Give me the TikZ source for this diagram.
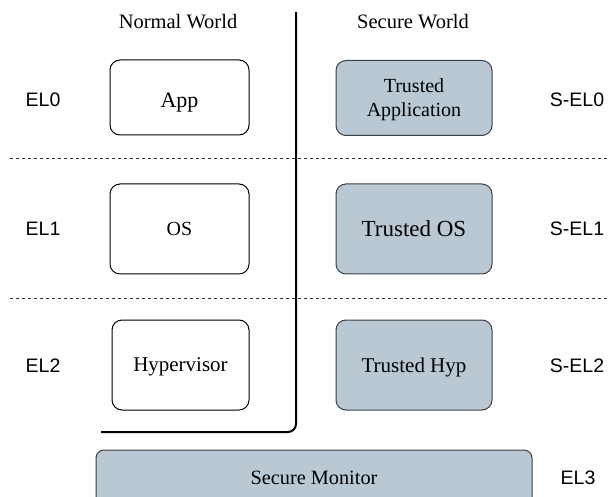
\documentclass[tikz,border=0pt]{standalone}
\usepackage{fontspec}
\setmainfont{Liberation Serif}
\newfontfamily\labelfont{Liberation Sans}
\definecolor{secfill}{HTML}{BAC8D3}
\definecolor{secline}{HTML}{3A3F44}
\begin{document}
\begin{tikzpicture}[x=1pt,y=-1pt,
  world/.style={draw=black,line width=1pt,rounded corners=10pt,fill=white,
    font=\fontsize{20}{24}\selectfont,align=center,inner sep=0pt,text depth=0pt},
  secure/.style={world,draw=secline,fill=secfill},
  header/.style={font=\fontsize{20.5}{24}\selectfont},
  level/.style={font=\labelfont\fontsize{19.5}{22}\selectfont},
  sep/.style={draw=black!80,line width=1pt,dash pattern=on 3pt off 3pt},
  divider/.style={draw=black,line width=2pt,rounded corners=8pt}]
\useasboundingbox (0,0) rectangle (608,497);

% column headers
\node[header] (nw) at (178,22) {Normal World};
\node[header] (sw) at (413,22) {Secure World};

% level separators
\coordinate (s1l) at (10,159);  \coordinate (s1r) at (608,159);
\coordinate (s2l) at (10,298);  \coordinate (s2r) at (608,298);
\draw[sep] (s1l) -- (s1r);
\draw[sep] (s2l) -- (s2r);

% boundary between the worlds
\coordinate (dtop) at (296,12);
\coordinate (dcorner) at (296,432);
\coordinate (dend) at (101,432);
\draw[divider] (dtop) -- (dcorner) -- (dend);

% normal world components
\node[world,minimum width=139pt,minimum height=75pt,font=\fontsize{22}{26}\selectfont,
  text height=21pt] (app) at (179.5,97.5) {App};
\node[world,minimum width=139pt,minimum height=90pt] (os) at (179.5,229) {OS};
\node[world,minimum width=137pt,minimum height=90pt,font=\fontsize{21}{24}\selectfont] (hyp) at (180.5,365) {Hypervisor};

% secure world components
\node[secure,minimum width=156pt,minimum height=75pt] (ta) at (414,98) {Trusted\\Application};
\node[secure,minimum width=156pt,minimum height=90pt,font=\fontsize{23}{26}\selectfont] (tos) at (414,229) {Trusted OS};
\node[secure,minimum width=156pt,minimum height=90pt,font=\fontsize{21}{24}\selectfont] (thyp) at (414,365) {Trusted Hyp};

% monitor (runs past the lower edge)
\node[secure,minimum width=436pt,minimum height=64pt,rounded corners=8pt] (mon) at (314,482) {};
\node[font=\fontsize{20.3}{24}\selectfont,text depth=0pt] (monl) at (314,478) {Secure Monitor};

% exception levels
\node[level] (el0) at (43,100) {EL0};
\node[level] (el1) at (43,229) {EL1};
\node[level] (el2) at (43,366) {EL2};
\node[level] (sel0) at (577,100) {S-EL0};
\node[level] (sel1) at (577,229) {S-EL1};
\node[level] (sel2) at (577,366) {S-EL2};
\node[level] (el3) at (578,478) {EL3};
\end{tikzpicture}
\end{document}
